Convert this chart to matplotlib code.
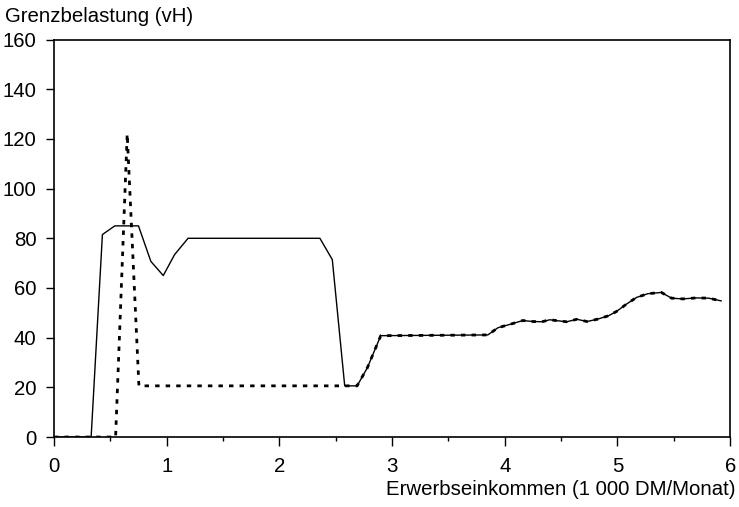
import matplotlib
matplotlib.use("Agg")
import matplotlib.pyplot as plt
from matplotlib.ticker import MultipleLocator

plt.rcParams['font.family'] = ['Liberation Sans', 'DejaVu Sans']

# Solid line: Grenzbelastung (Variante 1)
solid_x = [0.0, 0.33, 0.43, 0.54, 0.75, 0.86, 0.97, 1.07, 1.19, 2.36, 2.47, 2.58,
           2.69, 2.78, 2.90, 3.85, 3.94, 4.05, 4.16, 4.25, 4.33, 4.40, 4.47, 4.55,
           4.64, 4.73, 4.82, 4.92, 4.99, 5.08, 5.17, 5.27, 5.39, 5.48, 5.58, 5.70,
           5.81, 5.92]
solid_y = [0, 0, 81.5, 85, 85, 70.7, 65, 73.4, 80, 80, 71.4, 20.6,
           20.6, 27.8, 40.8, 41.1, 44, 45.4, 46.9, 46.5, 46.4, 47.2, 46.8, 46.4,
           47.4, 46.5, 47.4, 48.8, 50.5, 53.5, 56.2, 57.7, 58.2, 55.9, 55.6, 56,
           55.9, 54.8]

# Dotted line: Grenzbelastung (Variante 2)
dot_x = [0.0, 0.547, 0.65, 0.754, 2.69, 2.78, 2.90, 3.85, 3.94, 4.05, 4.16, 4.25,
         4.33, 4.40, 4.47, 4.55, 4.64, 4.73, 4.82, 4.92, 4.99, 5.08, 5.17, 5.27,
         5.39, 5.48, 5.58, 5.70, 5.81, 5.92]
dot_y = [0, 0, 122, 20.6, 20.6, 27.8, 40.8, 41.1, 44, 45.4, 46.9, 46.5,
         46.4, 47.2, 46.8, 46.4, 47.4, 46.5, 47.4, 48.8, 50.5, 53.5, 56.2, 57.7,
         58.2, 55.9, 55.6, 56, 55.9, 54.8]

x_ticks = [0, 1, 2, 3, 4, 5, 6]
y_ticks = [0, 20, 40, 60, 80, 100, 120, 140, 160]

FS = 14.7

fig = plt.figure(figsize=(7.39, 5.07), dpi=100)
ax = fig.add_axes([0.073, 0.138, 0.915, 0.784])

ax.plot(solid_x, solid_y, color='black', lw=1.0)
ax.plot(dot_x, dot_y, color='black', lw=2.0, linestyle=(0, (1.6, 2.2)))

ax.set_xlim(0, 6)
ax.set_ylim(0, 160)
ax.set_xticks(x_ticks)
ax.set_xticklabels([str(v) for v in x_ticks])
ax.xaxis.set_minor_locator(MultipleLocator(0.5))
ax.set_yticks(y_ticks)
ax.set_yticklabels([str(v) for v in y_ticks])

ax.tick_params(axis='x', which='major', labelsize=FS, direction='out',
               length=6.5, width=1, color='black', pad=8)
ax.tick_params(axis='y', which='major', labelsize=FS, direction='out',
               length=6, width=1, color='black', pad=6.5)
ax.tick_params(axis='x', which='minor', direction='out', length=3, width=1)
for s in ax.spines.values():
    s.set_linewidth(1.2)

fig.text(0.007, 0.957, 'Grenzbelastung (vH)', fontsize=FS, ha='left', va='baseline')
fig.text(0.995, 0.024, 'Erwerbseinkommen (1 000 DM/Monat)', fontsize=FS,
         ha='right', va='baseline')

fig.savefig('out.png', dpi=100)
